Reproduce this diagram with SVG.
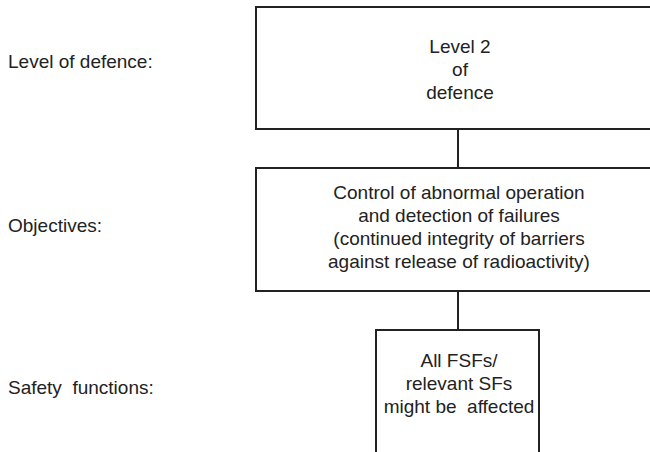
<svg xmlns="http://www.w3.org/2000/svg" width="650" height="452" viewBox="0 0 650 452">
  <style>
    .box { fill: #ffffff; stroke: #222222; stroke-width: 2; }
    .link { stroke: #222222; stroke-width: 2; fill: none; }
    text { font-family: "Liberation Sans", Arial, sans-serif; font-size: 19px; fill: #222222; }
    .mid { text-anchor: middle; }
  </style>
  <rect width="650" height="452" fill="#ffffff"/>

  <!-- row labels -->
  <g id="row-labels">
    <text x="8" y="68">Level of defence:</text>
    <text x="8" y="232">Objectives:</text>
    <text x="8" y="394" xml:space="preserve">Safety  functions:</text>
  </g>

  <!-- connectors -->
  <g id="connectors">
    <line class="link" x1="458" y1="129" x2="458" y2="168"/>
    <line class="link" x1="458" y1="291" x2="458" y2="330"/>
  </g>

  <g id="level">
    <rect class="box" x="256" y="7" width="400" height="122"/>
    <text class="mid" x="460" y="53">Level 2</text>
    <text class="mid" x="460" y="76">of</text>
    <text class="mid" x="460" y="99">defence</text>
  </g>

  <g id="objectives">
    <rect class="box" x="256" y="168" width="400" height="123"/>
    <text class="mid" x="459" y="199">Control of abnormal operation</text>
    <text class="mid" x="459" y="222">and detection of failures</text>
    <text class="mid" x="459" y="245">(continued integrity of barriers</text>
    <text class="mid" x="459" y="268">against release of radioactivity)</text>
  </g>

  <g id="safety-functions">
    <rect class="box" x="376" y="330" width="163" height="130"/>
    <text class="mid" x="459" y="367">All FSFs/</text>
    <text class="mid" x="459" y="390">relevant SFs</text>
    <text class="mid" x="459" y="413" xml:space="preserve">might be  affected</text>
  </g>
</svg>
